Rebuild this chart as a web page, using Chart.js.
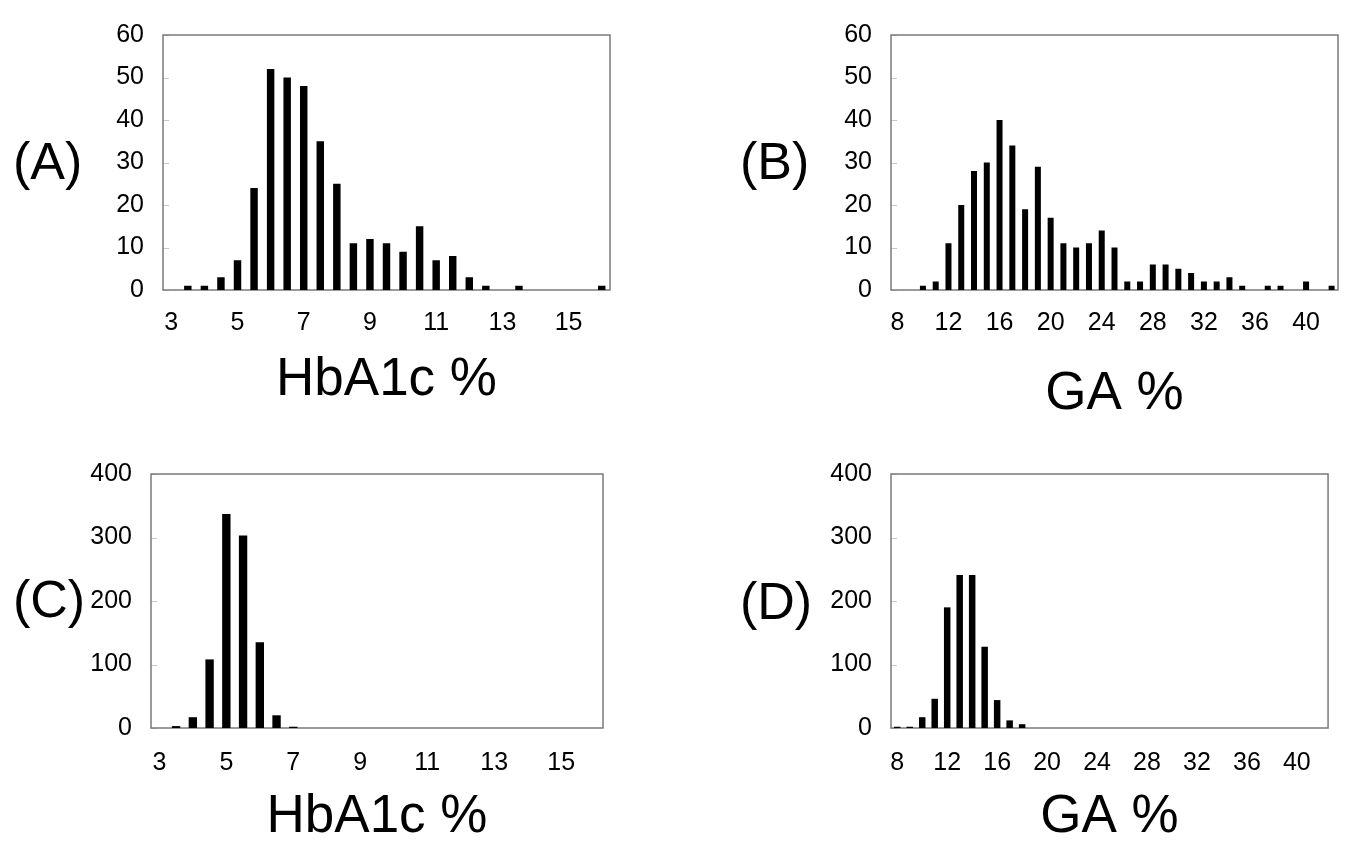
<!DOCTYPE html>
<html>
<head>
<meta charset="utf-8">
<script src="https://cdn.jsdelivr.net/npm/chart.js@4/dist/chart.umd.min.js"></script>
<style>
    html, body { margin: 0; padding: 0; background: #fff; overflow: hidden; }
    body { width: 1347px; height: 844px; position: relative; font-family: 'Liberation Sans', Arial, sans-serif; }
    canvas { position: absolute; }
    .panel-label { position: absolute; font-size: 52px; line-height: 52px; color: #000; }
</style>
</head>
<body>
<div class="panel-label" style="left:13px; top:135px;">(A)</div>
<div class="panel-label" style="left:740px; top:135px;">(B)</div>
<div class="panel-label" style="left:13px; top:573px;">(C)</div>
<div class="panel-label" style="left:740px; top:575px;">(D)</div>

<canvas id="chart-a"></canvas>
<canvas id="chart-b"></canvas>
<canvas id="chart-c"></canvas>
<canvas id="chart-d"></canvas>

<script>
// bins (0.5 % steps for HbA1c, 1 % steps for GA)
const hba1cBins = ['3', '3.5', '4', '4.5', '5', '5.5', '6', '6.5', '7', '7.5', '8', '8.5', '9', '9.5',
    '10', '10.5', '11', '11.5', '12', '12.5', '13', '13.5', '14', '14.5', '15', '15.5', '16'];
const gaBins = ['8', '9', '10', '11', '12', '13', '14', '15', '16', '17', '18', '19', '20', '21', '22',
    '23', '24', '25', '26', '27', '28', '29', '30', '31', '32', '33', '34', '35', '36', '37', '38',
    '39', '40', '41', '42'];

// counts per bin
const hba1cDiabetes = [0, 1, 1, 3, 7, 24, 52, 50, 48, 35, 25, 11, 12, 11, 9, 15, 7, 8, 3, 1, 0, 1, 0, 0, 0, 0, 1];
const gaDiabetes = [0, 0, 1, 2, 11, 20, 28, 30, 40, 34, 19, 29, 17, 11, 10, 11, 14, 10, 2, 2, 6, 6, 5, 4,
    2, 2, 3, 1, 0, 1, 1, 0, 2, 0, 1];
const hba1cControl = [0, 3, 17, 108, 337, 303, 135, 20, 2, 0, 0, 0, 0, 0, 0, 0, 0, 0, 0, 0, 0, 0, 0, 0, 0, 0, 0];
const gaControl = [2, 2, 17, 46, 190, 241, 241, 128, 44, 12, 6, 0, 0, 0, 0, 0, 0, 0, 0, 0, 0, 0, 0, 0,
    0, 0, 0, 0, 0, 0, 0, 0, 0, 0, 0];

const FONT = "'Liberation Sans', Arial, sans-serif";

const framePlugin = {
    id: 'frame',
    beforeDatasetsDraw(chart) {
        const { ctx, chartArea: a, scales } = chart;
        ctx.save();
        ctx.strokeStyle = '#c8c8c8';
        ctx.lineWidth = 1;
        scales.y.ticks.forEach(t => {
            const y = Math.round(scales.y.getPixelForValue(t.value)) + 0.5;
            ctx.beginPath();
            ctx.moveTo(a.left, y);
            ctx.lineTo(a.left + 6, y);
            ctx.stroke();
        });
        ctx.strokeStyle = '#7a7a7a';
        ctx.lineWidth = 1.5;
        ctx.strokeRect(a.left, a.top, a.right - a.left, a.bottom - a.top);
        ctx.restore();
    }
};

function makeHistogram(id, box, labels, counts, yMax, yStep, title) {
    const yAxisW = 90;
    const padTop = 20;
    const padRight = 12;
    const canvas = document.getElementById(id);
    canvas.width = box.R - box.L + yAxisW + padRight;
    canvas.height = box.B - box.T + padTop + box.xH;
    canvas.style.left = (box.L - yAxisW) + 'px';
    canvas.style.top = (box.T - padTop) + 'px';

    return new Chart(canvas.getContext('2d'), {
        type: 'bar',
        data: {
            labels: labels,
            datasets: [{
                data: counts,
                backgroundColor: '#000',
                borderWidth: 0,
                barPercentage: box.bar,
                categoryPercentage: 1
            }]
        },
        options: {
            responsive: false,
            animation: false,
            layout: { padding: { top: padTop, right: padRight, left: 0, bottom: 0 } },
            plugins: { legend: { display: false }, tooltip: { enabled: false } },
            scales: {
                x: {
                    grid: { display: false, drawTicks: false },
                    border: { display: false },
                    ticks: {
                        autoSkip: false,
                        maxRotation: 0,
                        padding: box.tickPad,
                        color: '#000',
                        font: { family: FONT, size: 25 },
                        callback: (v, i) => (i % 4 === 0 ? labels[i] : '')
                    },
                    title: {
                        display: true,
                        text: title,
                        color: '#000',
                        padding: { top: 0, bottom: box.titlePad },
                        font: { family: FONT, size: 53, lineHeight: 1 }
                    },
                    afterFit: scale => { scale.height = box.xH; }
                },
                y: {
                    min: 0,
                    max: yMax,
                    grid: { display: false, drawTicks: false },
                    border: { display: false },
                    ticks: {
                        stepSize: yStep,
                        padding: 19,
                        color: '#000',
                        font: { family: FONT, size: 25 }
                    },
                    afterFit: scale => { scale.width = yAxisW; }
                }
            }
        },
        plugins: [framePlugin]
    });
}

makeHistogram('chart-a', { L: 163, R: 610, T: 21, B: 290, xH: 140, tickPad: 18, titlePad: 23, bar: 0.45 },
    hba1cBins, hba1cDiabetes, 60, 10, 'HbA1c %');
makeHistogram('chart-b', { L: 891, R: 1338, T: 21, B: 290, xH: 140, tickPad: 18, titlePad: 9, bar: 0.47 },
    gaBins, gaDiabetes, 60, 10, 'GA %');
makeHistogram('chart-c', { L: 151, R: 603, T: 460, B: 728, xH: 116, tickPad: 20, titlePad: 0, bar: 0.5 },
    hba1cBins, hba1cControl, 400, 100, 'HbA1c %');
makeHistogram('chart-d', { L: 891, R: 1330, T: 460, B: 728, xH: 116, tickPad: 20, titlePad: 0, bar: 0.52 },
    gaBins, gaControl, 400, 100, 'GA %');
</script>
</body>
</html>
